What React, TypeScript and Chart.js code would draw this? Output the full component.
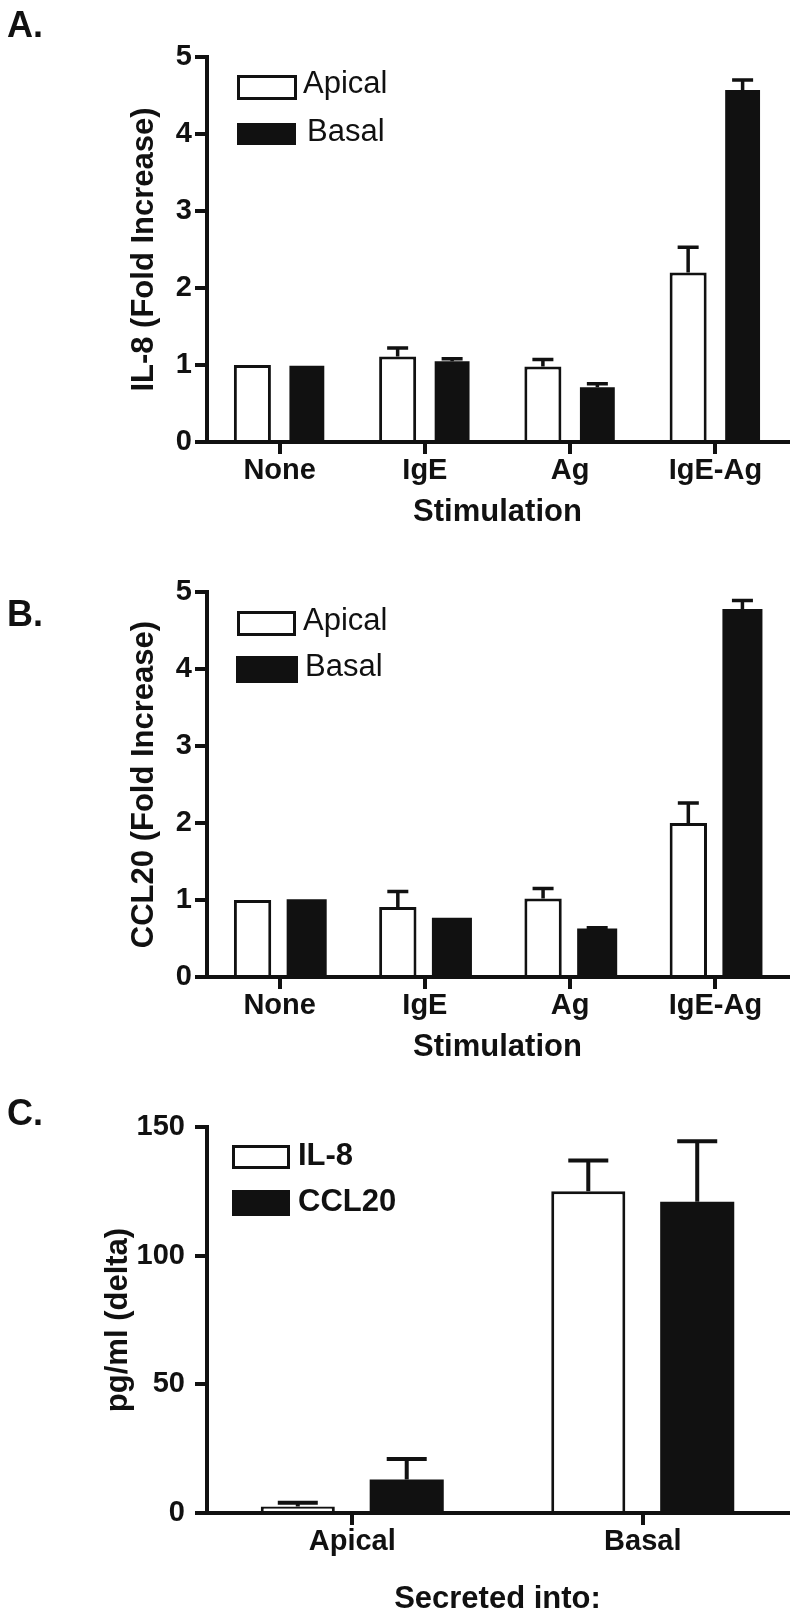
import React, { useEffect, useRef } from 'react';
import { Chart, registerables } from 'chart.js';

Chart.register(...registerables);

// ---------- data ----------
const stimCategories = ['None', 'IgE', 'Ag', 'IgE-Ag'];
const il8Apical = [1.0, 1.11, 0.98, 2.2];
const il8ApicalErr = [0, 0.11, 0.09, 0.33];
const il8Basal = [0.99, 1.05, 0.71, 4.57];
const il8BasalErr = [0, 0.03, 0.045, 0.13];

const ccl20Apical = [1.0, 0.91, 1.02, 2.0];
const ccl20ApicalErr = [0, 0.2, 0.13, 0.26];
const ccl20Basal = [1.01, 0.77, 0.63, 4.78];
const ccl20BasalErr = [0, 0, 0.01, 0.11];

const secretedCategories = ['Apical', 'Basal'];
const il8Pg = [2.5, 125];
const il8PgErr = [1.5, 12];
const ccl20Pg = [13, 121];
const ccl20PgErr = [8, 23.5];

const foldTicks = [0, 1, 2, 3, 4, 5];
const pgTicks = [0, 50, 100, 150];

// ---------- styling ----------
const FAMILY = '"Liberation Sans", Arial, Helvetica, sans-serif';
const INK = '#111111';

type LegendItem = { dx: number; dy: number; w: number; h: number; filled: boolean; textDx: number; textDy: number };

function makeErrorPlugin(errors: number[][], capW: number, lw: number) {
  return {
    id: 'errorBars',
    afterDatasetsDraw(chart: any) {
      const { ctx } = chart;
      const y = chart.scales.y;
      chart.data.datasets.forEach((ds: any, i: number) => {
        const errs = errors[i];
        if (!errs) return;
        const meta = chart.getDatasetMeta(i);
        meta.data.forEach((bar: any, j: number) => {
          const e = errs[j];
          if (!e) return;
          const v = ds.data[j];
          const yTop = y.getPixelForValue(v + e);
          const yBar = y.getPixelForValue(v);
          ctx.save();
          ctx.strokeStyle = INK;
          ctx.lineWidth = lw;
          ctx.beginPath();
          ctx.moveTo(bar.x, yBar);
          ctx.lineTo(bar.x, yTop);
          ctx.moveTo(bar.x - capW / 2, yTop);
          ctx.lineTo(bar.x + capW / 2, yTop);
          ctx.stroke();
          ctx.restore();
        });
      });
    },
  };
}

function makeLegendPlugin(items: LegendItem[], font: string) {
  return {
    id: 'boxLegend',
    afterDraw(chart: any) {
      const { ctx, chartArea } = chart;
      items.forEach((it, i) => {
        const x = chartArea.left + it.dx;
        const y = chartArea.top + it.dy;
        ctx.save();
        if (it.filled) {
          ctx.fillStyle = INK;
          ctx.fillRect(x, y, it.w, it.h);
        } else {
          ctx.fillStyle = '#ffffff';
          ctx.fillRect(x, y, it.w, it.h);
          ctx.strokeStyle = INK;
          ctx.lineWidth = 3;
          ctx.strokeRect(x + 1.5, y + 1.5, it.w - 3, it.h - 3);
        }
        ctx.font = font;
        ctx.fillStyle = INK;
        ctx.textAlign = 'left';
        ctx.textBaseline = 'middle';
        ctx.fillText(chart.data.datasets[i].label, x + it.w + it.textDx, y + it.h / 2 + it.textDy);
        ctx.restore();
      });
    },
  };
}

type PanelProps = {
  top: number;
  height: number;
  categories: string[];
  labels: [string, string];
  values: [number[], number[]];
  errors: [number[], number[]];
  barPct: [number, number];
  catPct: number;
  yMax: number;
  yTicks: number[];
  yTitle: string;
  xTitle: string;
  areaTop: number;
  xAxisHeight: number;
  padBottom: number;
  yTitlePad: number;
  yTickPad: number;
  xTitlePadBottom: number;
  capW: number;
  errLw: number;
  legend: LegendItem[];
  legendFont: string;
};

function Panel(p: PanelProps) {
  const ref = useRef<HTMLCanvasElement | null>(null);
  useEffect(() => {
    if (!ref.current) return;
    const tickFont = { family: FAMILY, size: 29, weight: 'bold' as const };
    const titleFont = { family: FAMILY, size: 31, weight: 'bold' as const };
    const chart = new Chart(ref.current, {
      type: 'bar',
      data: {
        labels: p.categories,
        datasets: [
          {
            label: p.labels[0],
            data: p.values[0],
            backgroundColor: '#ffffff',
            borderColor: INK,
            borderWidth: 3,
            borderSkipped: 'start',
            inflateAmount: 0,
            barPercentage: p.barPct[0],
            categoryPercentage: p.catPct,
          },
          {
            label: p.labels[1],
            data: p.values[1],
            backgroundColor: INK,
            borderColor: INK,
            borderWidth: 0,
            barPercentage: p.barPct[1],
            categoryPercentage: p.catPct,
          },
        ],
      },
      options: {
        responsive: false,
        maintainAspectRatio: false,
        animation: false,
        events: [],
        layout: { padding: { left: 0, top: p.areaTop, right: 12, bottom: p.padBottom } },
        plugins: { legend: { display: false }, tooltip: { enabled: false } },
        scales: {
          x: {
            type: 'category',
            offset: true,
            grid: {
              display: true,
              drawOnChartArea: false,
              drawTicks: true,
              tickLength: 12,
              tickWidth: 4,
              lineWidth: 4,
              color: INK,
              tickColor: INK,
              offset: false,
            },
            border: { display: true, width: 4, color: INK, z: 1 },
            ticks: { font: tickFont, color: INK, padding: 0, maxRotation: 0, autoSkip: false },
            title: {
              display: true,
              text: p.xTitle,
              font: titleFont,
              color: INK,
              padding: { top: 0, bottom: p.xTitlePadBottom },
            },
            afterFit: (s: any) => {
              s.height = p.xAxisHeight;
            },
          },
          y: {
            type: 'linear',
            min: 0,
            max: p.yMax,
            afterBuildTicks: (s: any) => {
              s.ticks = p.yTicks.map((v) => ({ value: v }));
            },
            grid: {
              display: true,
              drawOnChartArea: false,
              drawTicks: true,
              tickLength: 12,
              tickWidth: 4,
              lineWidth: 4,
              color: INK,
              tickColor: INK,
            },
            border: { display: true, width: 4, color: INK, z: 1 },
            ticks: { font: tickFont, color: INK, padding: p.yTickPad },
            title: {
              display: true,
              text: p.yTitle,
              font: titleFont,
              color: INK,
              padding: { top: p.yTitlePad, bottom: 0 },
            },
            afterFit: (s: any) => {
              s.width = 207;
            },
          },
        },
      } as any,
      plugins: [makeErrorPlugin(p.errors, p.capW, p.errLw), makeLegendPlugin(p.legend, p.legendFont)],
    });
    return () => chart.destroy();
  }, []);
  return (
    <canvas
      ref={ref}
      width={800}
      height={p.height}
      style={{ position: 'absolute', left: 0, top: p.top, width: 800, height: p.height, display: 'block' }}
    />
  );
}

const letterStyle = (top: number): React.CSSProperties => ({
  position: 'absolute',
  left: 7,
  top,
  fontFamily: FAMILY,
  fontWeight: 'bold',
  fontSize: 36,
  lineHeight: 1,
  color: INK,
});

export default function App() {
  const legendRegular = `31px ${FAMILY}`;
  const legendBold = `bold 31px ${FAMILY}`;
  return (
    <div style={{ position: 'absolute', left: 0, top: 0, width: 800, height: 1621, background: '#fff', overflow: 'hidden' }}>
      <Panel
        top={0}
        height={540}
        categories={stimCategories}
        labels={['Apical', 'Basal']}
        values={[il8Apical, il8Basal]}
        errors={[il8ApicalErr, il8BasalErr]}
        barPct={[0.68, 0.64]}
        catPct={0.75}
        yMax={5}
        yTicks={foldTicks}
        yTitle="IL-8 (Fold Increase)"
        xTitle="Stimulation"
        areaTop={57}
        xAxisHeight={93}
        padBottom={5}
        yTitlePad={126}
        yTickPad={3}
        xTitlePadBottom={4}
        capW={21}
        errLw={3.5}
        legend={[
          { dx: 30, dy: 18, w: 60, h: 25, filled: false, textDx: 6, textDy: -3 },
          { dx: 30, dy: 66, w: 59, h: 22, filled: true, textDx: 11, textDy: -2 },
        ]}
        legendFont={legendRegular}
      />
      <Panel
        top={540}
        height={535}
        categories={stimCategories}
        labels={['Apical', 'Basal']}
        values={[ccl20Apical, ccl20Basal]}
        errors={[ccl20ApicalErr, ccl20BasalErr]}
        barPct={[0.69, 0.74]}
        catPct={0.745}
        yMax={5}
        yTicks={foldTicks}
        yTitle="CCL20 (Fold Increase)"
        xTitle="Stimulation"
        areaTop={52}
        xAxisHeight={93}
        padBottom={5}
        yTitlePad={126}
        yTickPad={3}
        xTitlePadBottom={4}
        capW={21}
        errLw={3.5}
        legend={[
          { dx: 30, dy: 19, w: 59, h: 25, filled: false, textDx: 7, textDy: -2 },
          { dx: 29, dy: 64, w: 62, h: 27, filled: true, textDx: 7, textDy: -2 },
        ]}
        legendFont={legendRegular}
      />
      <Panel
        top={1075}
        height={546}
        categories={secretedCategories}
        labels={['IL-8', 'CCL20']}
        values={[il8Pg, ccl20Pg]}
        errors={[il8PgErr, ccl20PgErr]}
        barPct={[0.68, 0.68]}
        catPct={0.75}
        yMax={150}
        yTicks={pgTicks}
        yTitle="pg/ml (delta)"
        xTitle="Secreted into:"
        areaTop={52}
        xAxisHeight={108}
        padBottom={0}
        yTitlePad={100}
        yTickPad={10}
        xTitlePadBottom={3}
        capW={40}
        errLw={4}
        legend={[
          { dx: 25, dy: 18, w: 58, h: 24, filled: false, textDx: 8, textDy: -1 },
          { dx: 25, dy: 63, w: 58, h: 26, filled: true, textDx: 8, textDy: -1 },
        ]}
        legendFont={legendBold}
      />
      <div style={letterStyle(7)}>A.</div>
      <div style={letterStyle(596)}>B.</div>
      <div style={letterStyle(1095)}>C.</div>
    </div>
  );
}
